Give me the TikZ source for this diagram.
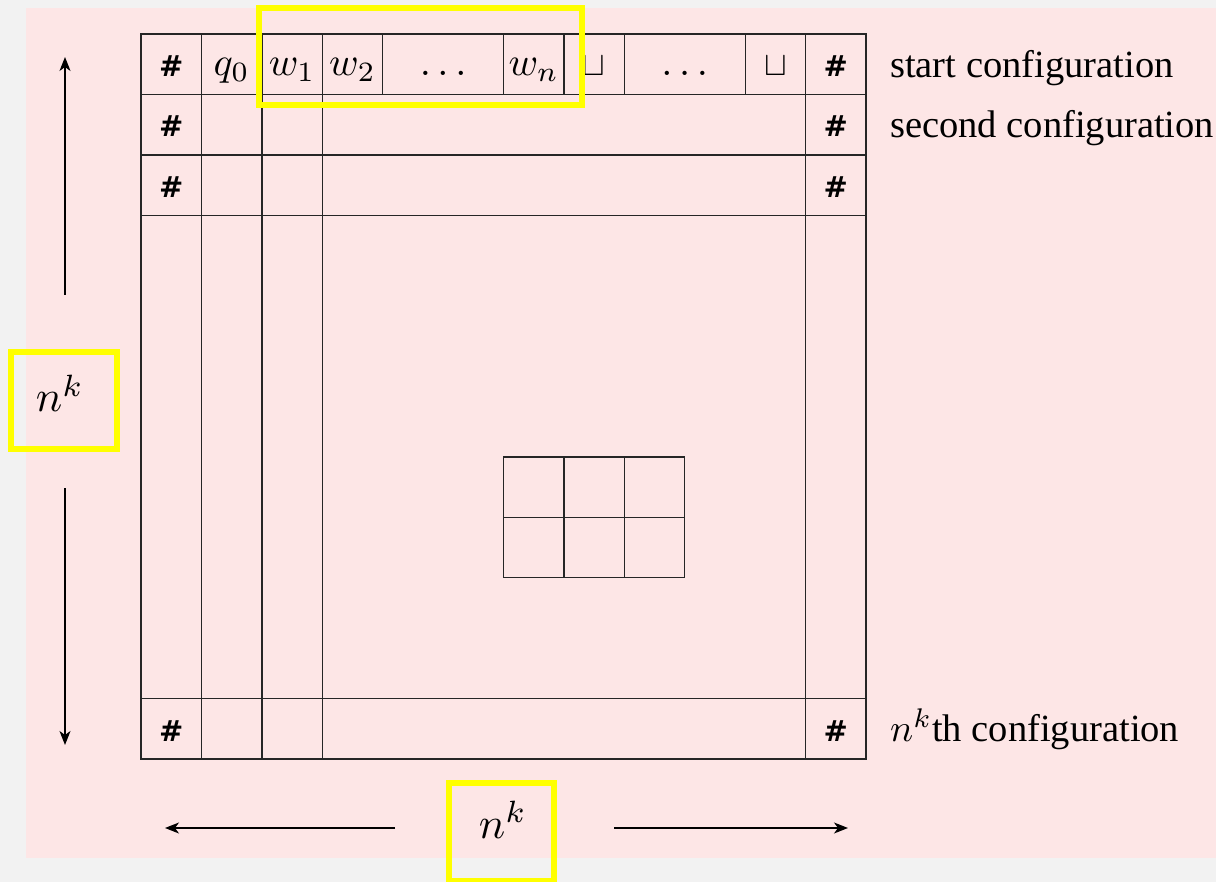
\documentclass[tikz,border=0pt]{standalone}
\usepackage{graphicx}
\usepackage[no-math]{fontspec}
\setmainfont{Liberation Serif}
\newfontfamily\hashfont{DejaVu Sans}
\usetikzlibrary{arrows.meta}
\definecolor{bggray}{RGB}{242,242,242}
\definecolor{pinkbg}{RGB}{253,230,230}
\definecolor{hiyellow}{RGB}{255,255,0}
\tikzset{
  gridline/.style={line width=1.4pt, draw=black!85},
  hashlbl/.style={inner sep=0pt, font=\hashfont\bfseries\fontsize{29}{32}\selectfont},
  celllbl/.style={inner sep=0pt, anchor=base},
  sidelbl/.style={inner sep=0pt, anchor=base west, font=\fontsize{38.5}{44}\selectfont},
  sizelbl/.style={inner sep=0pt, anchor=base},
  dimarrow/.style={line width=1.3pt, -{Stealth[length=14pt,width=11pt,inset=4pt]}},
  hibox/.style={draw=hiyellow, line width=6pt}
}
\begin{document}
\begin{tikzpicture}[x=1pt,y=-1pt]
\useasboundingbox (0,0) rectangle (1216,882);
\fill[bggray] (0,0) rectangle (1216,882);
\fill[pinkbg] (26,8) rectangle (1216,858);

\begin{scope}[shift={(141,34)}, x=60.42pt, y=-60.42pt]
  % outer frame and rows
  \draw[gridline] (0,0) rectangle (12,12);
  \foreach \r in {1,2,3,11} \draw[gridline] (0,\r) -- (12,\r);
  \foreach \c in {1,2,3,11} \draw[gridline] (\c,0) -- (\c,12);
  \foreach \c in {4,6,7,8,10} \draw[gridline] (\c,0) -- (\c,1);
  % inner window
  \draw[gridline] (6,7) rectangle (9,9);
  \draw[gridline] (6,8) -- (9,8);
  \draw[gridline] (7,7) -- (7,9);
  \draw[gridline] (8,7) -- (8,9);

  % hash marks
  \node[hashlbl] (hL0) at (0.5,0.53) {\#};
  \node[hashlbl] (hL1) at (0.5,1.53) {\#};
  \node[hashlbl] (hL2) at (0.5,2.53) {\#};
  \node[hashlbl] (hL3) at (0.5,11.53) {\#};
  \node[hashlbl] (hR0) at (11.5,0.53) {\#};
  \node[hashlbl] (hR1) at (11.5,1.53) {\#};
  \node[hashlbl] (hR2) at (11.5,2.53) {\#};
  \node[hashlbl] (hR3) at (11.5,11.53) {\#};

  % start configuration cells
  \node[celllbl] (q0) at (1.5,0.69) {\scalebox{4}{$q_0$}};
  \node[celllbl] (w1) at (2.5,0.69) {\scalebox{4}{$w_1$}};
  \node[celllbl] (w2) at (3.5,0.69) {\scalebox{4}{$w_2$}};
  \node[celllbl] (d1) at (5,0.69) {\scalebox{4}{$\ldots$}};
  \node[celllbl] (wn) at (6.5,0.69) {\scalebox{4}{$w_n$}};
  \node[celllbl] (b1) at (7.5,0.69) {\scalebox{3.4}{$\sqcup$}};
  \node[celllbl] (d2) at (9,0.69) {\scalebox{4}{$\ldots$}};
  \node[celllbl] (b2) at (10.5,0.69) {\scalebox{3.4}{$\sqcup$}};
\end{scope}

% right-hand labels
\node[sidelbl] (startcfg) at (890,77.5) {start configuration};
\node[sidelbl] (secondcfg) at (890,137.6) {second configuration};
\node[sidelbl] (lastcfg) at (890,741.5) {\scalebox{3.85}{\normalsize$n^k$}th configuration};

% size labels
\node[sizelbl] (nkleft) at (60,412) {\scalebox{4.4}{$n^k$}};
\node[sizelbl] (nkbottom) at (503,838) {\scalebox{4.4}{$n^k$}};

% dimension arrows
\coordinate (upS) at (65,295);
\coordinate (upE) at (65,57);
\coordinate (dnS) at (65,488);
\coordinate (dnE) at (65,745);
\coordinate (lfS) at (395,828);
\coordinate (lfE) at (165,828);
\coordinate (rtS) at (614,828);
\coordinate (rtE) at (848,828);
\draw[dimarrow] (upS) -- (upE);
\draw[dimarrow] (dnS) -- (dnE);
\draw[dimarrow] (lfS) -- (lfE);
\draw[dimarrow] (rtS) -- (rtE);

% highlight boxes
\draw[hibox] (259,8) rectangle (581.5,105);
\draw[hibox] (11,352) rectangle (116.5,449.5);
\draw[hibox] (448.5,783) rectangle (554,881);
\end{tikzpicture}
\end{document}
